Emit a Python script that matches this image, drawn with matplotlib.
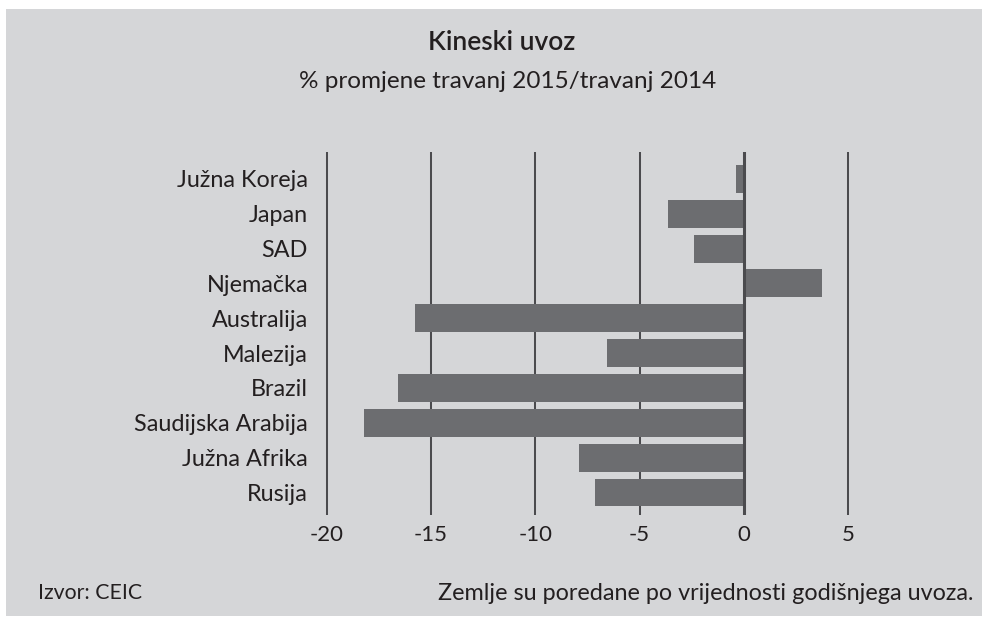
import matplotlib
matplotlib.use("Agg")
import matplotlib.pyplot as plt
from matplotlib.patches import Rectangle

countries = ["Južna Koreja", "Japan", "SAD", "Njemačka", "Australija",
             "Malezija", "Brazil", "Saudijska Arabija", "Južna Afrika", "Rusija"]
values = [-0.35, -3.65, -2.4, 3.75, -15.75, -6.55, -16.6, -18.2, -7.9, -7.15]
xticks = [-20, -15, -10, -5, 0, 5]
xticklabels = ["-20", "-15", "-10", "-5", "0", "5"]

title = "Kineski uvoz"
subtitle = "% promjene travanj 2015/travanj 2014"
source = "Izvor: CEIC"
note = "Zemlje su poredane po vrijednosti godišnjega uvoza."

BG = "#d5d6d8"
BAR = "#6c6d70"
GRID = "#4b4b4e"
TXT = "#231f20"
FONT = "Lato"
LW = "normal"

W, H = 988, 624
fig = plt.figure(figsize=(W / 100, H / 100), dpi=100, facecolor="white")
plt.rcParams["font.family"] = [FONT, "DejaVu Sans"]

fig.patches.append(Rectangle((6 / W, 1 - 616 / H), (982 - 6) / W, (616 - 9) / H,
                             transform=fig.transFigure, facecolor=BG,
                             edgecolor="none", zorder=-5))

# axes placement (pixels)
left_px, right_px = 316.4, 858.4
top_px, bot_px = 152, 515
ax = fig.add_axes([left_px / W, 1 - bot_px / H, (right_px - left_px) / W, (bot_px - top_px) / H])
ax.set_zorder(2)
ax.set_facecolor("none")
ax.set_xlim(-20.5, 5.5)
ax.set_ylim(9.646, -0.772)

for t in xticks:
    if t != 0:
        ax.axvline(t, color=GRID, lw=1.45, zorder=1)
ypos = list(range(len(countries)))
ax.barh(ypos, values, height=0.8, color=BAR, zorder=2)
ax.axvline(0, color=GRID, lw=2.2, zorder=3)

for s in ax.spines.values():
    s.set_visible(False)
ax.set_xticks(xticks)
ax.set_xticklabels(xticklabels, fontsize=16, color=TXT, fontweight=LW)
ax.set_yticks(ypos)
ax.set_yticklabels(countries, fontsize=16.8, color=TXT, fontweight=LW)
ax.tick_params(axis="x", length=0, pad=7)
ax.tick_params(axis="y", length=0, pad=6)

fig.text(502 / W, 1 - 43 / H, title, ha="center", va="center", fontsize=19,
         fontweight="semibold", color=TXT)
fig.text(508 / W, 1 - 82 / H, subtitle, ha="center", va="center", fontsize=17.5,
         color=TXT, fontweight=LW)
fig.text(38 / W, 1 - 593 / H, source, ha="left", va="center", fontsize=15.3,
         color=TXT, fontweight=LW)
fig.text(973 / W, 1 - 593 / H, note, ha="right", va="center", fontsize=16.8,
         color=TXT, fontweight=LW)

fig.savefig("out.png", dpi=100, facecolor="white")
